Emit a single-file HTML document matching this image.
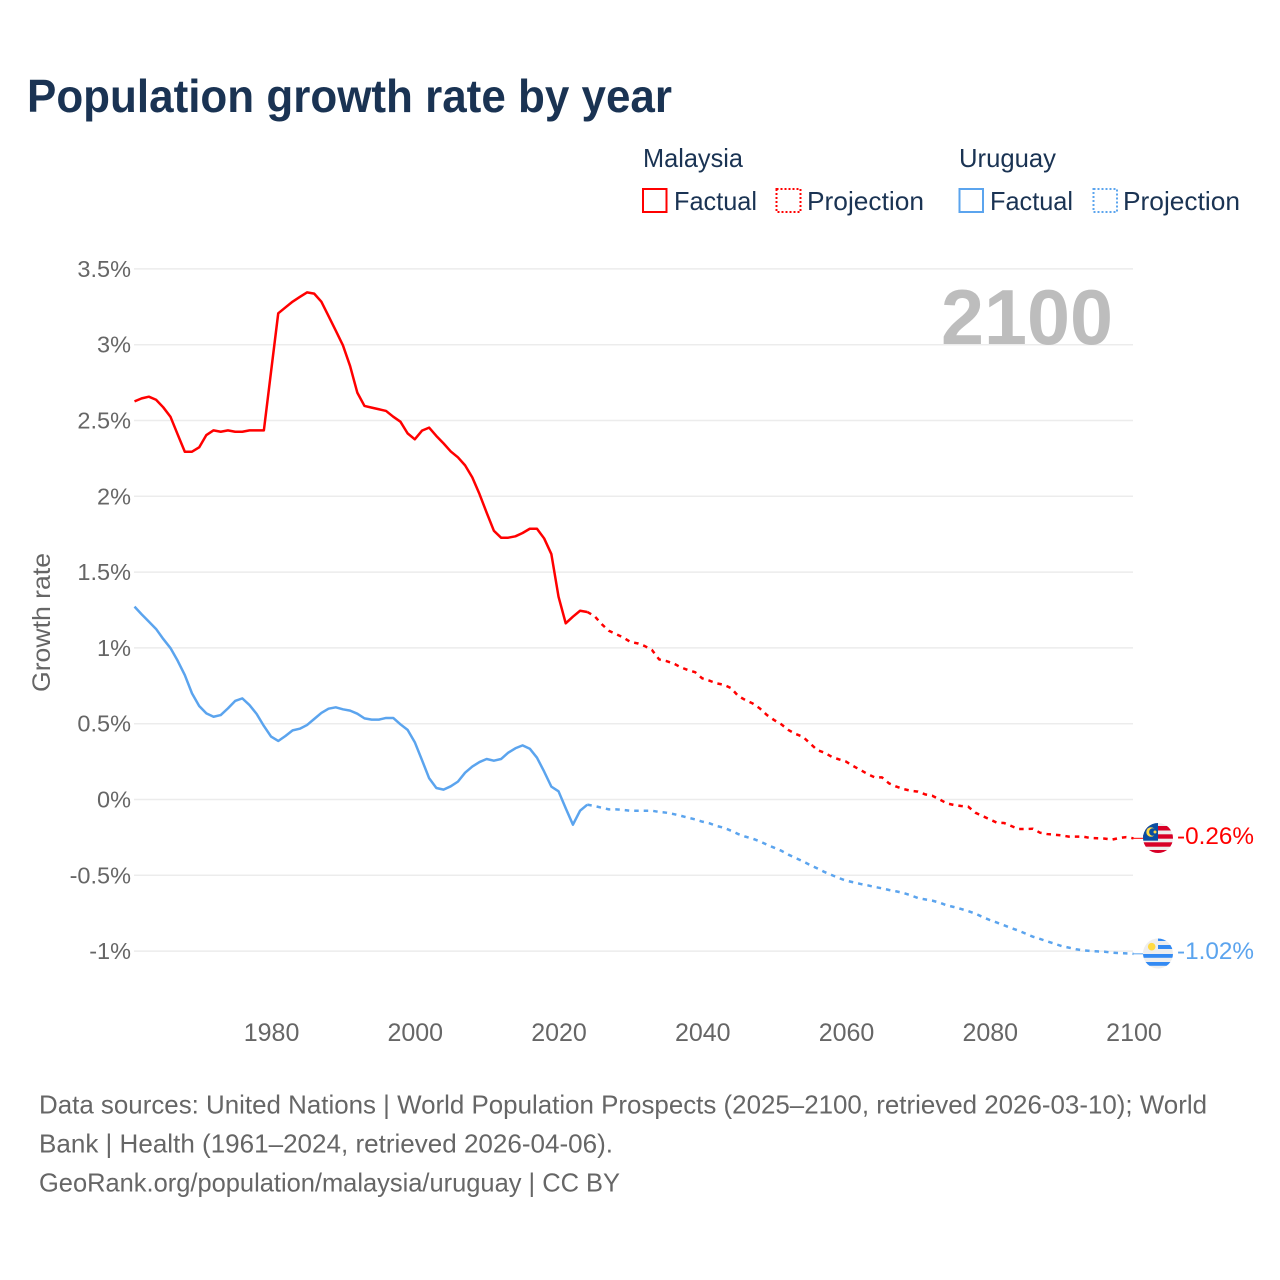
<!DOCTYPE html>
<html lang="en">
<head>
<meta charset="utf-8">
<title>Population growth rate by year</title>
<style>
html,body{margin:0;padding:0;background:#fff;}
svg{display:block;font-family:"Liberation Sans",sans-serif;}
</style>
</head>
<body>
<svg id="chart" xmlns="http://www.w3.org/2000/svg" width="1280" height="1280" viewBox="0 0 1280 1280">
  <rect x="0" y="0" width="1280" height="1280" fill="#fff"/>
  <text x="27" y="112" font-size="46" font-weight="700" fill="#1a3353" textLength="645" lengthAdjust="spacingAndGlyphs">Population growth rate by year</text>

  <g font-size="26" fill="#1a3353">
    <text x="643" y="167" textLength="100" lengthAdjust="spacingAndGlyphs">Malaysia</text>
    <text x="959" y="167" textLength="97" lengthAdjust="spacingAndGlyphs">Uruguay</text>
    <g>
      <rect x="643" y="189" width="23.5" height="23" fill="none" stroke="#ff0000" stroke-width="2"/>
      <text x="674" y="210" textLength="83" lengthAdjust="spacingAndGlyphs">Factual</text>
    </g>
    <g>
      <rect x="776.500" y="189" width="24" height="23" fill="none" stroke="#ff0000" stroke-width="2" stroke-dasharray="2 2"/>
      <text x="807" y="210" textLength="117" lengthAdjust="spacingAndGlyphs">Projection</text>
    </g>
    <g>
      <rect x="959.500" y="189" width="23.500" height="23" fill="none" stroke="#5ba4ee" stroke-width="2"/>
      <text x="990" y="210" textLength="83" lengthAdjust="spacingAndGlyphs">Factual</text>
    </g>
    <g>
      <rect x="1093.500" y="189" width="23.500" height="23" fill="none" stroke="#5ba4ee" stroke-width="2" stroke-dasharray="2 2"/>
      <text x="1123" y="210" textLength="117" lengthAdjust="spacingAndGlyphs">Projection</text>
    </g>
  </g>

  <g id="grid"></g>
  <g id="yticks" font-size="23.5" fill="#666" text-anchor="end"></g>
  <g id="xticks" font-size="25" fill="#666" text-anchor="middle"></g>
  <text transform="translate(50 622.500) rotate(-90)" font-size="25" fill="#666" text-anchor="middle" textLength="139" lengthAdjust="spacingAndGlyphs">Growth rate</text>
  <text x="941" y="344" font-size="78" font-weight="700" fill="#bdbdbd" textLength="172" lengthAdjust="spacingAndGlyphs">2100</text>

  <g id="series"></g>

  <defs>
    <clipPath id="clip-my"><circle cx="1158" cy="838" r="15"/></clipPath>
    <clipPath id="clip-uy"><circle cx="1158" cy="953.500" r="15"/></clipPath>
  </defs>
  <g clip-path="url(#clip-my)">
    <rect x="1143" y="823" width="30" height="30" fill="#eeeeee"/>
    <rect x="1143" y="826" width="30" height="4.500" fill="#d80027"/>
    <rect x="1143" y="834.300" width="30" height="4.400" fill="#d80027"/>
    <rect x="1143" y="842.300" width="30" height="4.400" fill="#d80027"/>
    <rect x="1143" y="850" width="30" height="4" fill="#d80027"/>
    <rect x="1143" y="823" width="15" height="17.700" fill="#0a4ea2"/>
    <circle cx="1151" cy="832" r="4.700" fill="#ffda44"/>
    <circle cx="1152.800" cy="832" r="3.700" fill="#0a4ea2"/>
    <circle cx="1155" cy="832" r="1.500" fill="#ffda44"/>
  </g>
  <g clip-path="url(#clip-uy)">
    <rect x="1143" y="938" width="30" height="31" fill="#eeeeee"/>
    <rect x="1158" y="938" width="15" height="3" fill="#338af3"/>
    <rect x="1158" y="945" width="15" height="4" fill="#338af3"/>
    <rect x="1143" y="954" width="30" height="3.800" fill="#338af3"/>
    <rect x="1143" y="962" width="30" height="3.800" fill="#338af3"/>
    <circle cx="1151.700" cy="946.700" r="3.800" fill="#ffda44"/>
  </g>
  <text id="label-my" x="1177" y="844" font-size="24.500" fill="#ff0000" textLength="77" lengthAdjust="spacingAndGlyphs">-0.26%</text>
  <text id="label-uy" x="1177" y="959" font-size="24.500" fill="#5ba4ee" textLength="77" lengthAdjust="spacingAndGlyphs">-1.02%</text>

  <g font-size="26" fill="#666">
    <text x="39" y="1113.500" textLength="1168" lengthAdjust="spacingAndGlyphs">Data sources: United Nations | World Population Prospects (2025–2100, retrieved 2026-03-10); World</text>
    <text x="39" y="1152.500" textLength="574" lengthAdjust="spacingAndGlyphs">Bank | Health (1961–2024, retrieved 2026-04-06).</text>
    <text x="39" y="1191.500" textLength="581" lengthAdjust="spacingAndGlyphs">GeoRank.org/population/malaysia/uruguay | CC BY</text>
  </g>
</svg>
<script>
const xTickLabels = [1980, 2000, 2020, 2040, 2060, 2080, 2100];
const yTickValues = [3.5, 3, 2.5, 2, 1.5, 1, 0.5, 0, -0.5, -1];
const factualStartYear = 1961;
const projectionStartYear = 2024;
const malaysiaFactual = [2.626,2.646,2.657,2.637,2.587,2.525,2.409,2.294,2.294,2.323,2.404,2.435,2.426,2.435,2.426,2.426,2.435,2.435,2.435,2.822,3.207,3.246,3.284,3.315,3.345,3.337,3.284,3.189,3.093,2.996,2.859,2.684,2.596,2.585,2.574,2.563,2.525,2.492,2.415,2.376,2.433,2.453,2.398,2.349,2.296,2.257,2.204,2.125,2.015,1.892,1.773,1.727,1.727,1.736,1.758,1.786,1.786,1.722,1.619,1.338,1.162,1.206,1.245,1.237];
const malaysiaProjection = [1.237,1.21,1.157,1.113,1.091,1.069,1.039,1.03,1.012,0.986,0.924,0.913,0.898,0.872,0.854,0.84,0.799,0.784,0.766,0.757,0.735,0.683,0.656,0.634,0.601,0.557,0.524,0.496,0.458,0.432,0.414,0.37,0.326,0.309,0.282,0.265,0.25,0.221,0.195,0.168,0.146,0.146,0.106,0.085,0.069,0.058,0.052,0.034,0.025,0.001,-0.025,-0.036,-0.043,-0.047,-0.087,-0.109,-0.131,-0.153,-0.155,-0.175,-0.195,-0.195,-0.193,-0.219,-0.228,-0.232,-0.237,-0.245,-0.245,-0.245,-0.254,-0.256,-0.258,-0.265,-0.254,-0.248,-0.256];
const uruguayFactual = [1.272,1.221,1.173,1.125,1.059,0.999,0.916,0.821,0.7,0.617,0.568,0.546,0.557,0.601,0.65,0.667,0.623,0.564,0.485,0.415,0.386,0.419,0.456,0.467,0.491,0.531,0.571,0.599,0.608,0.595,0.586,0.566,0.535,0.527,0.527,0.538,0.538,0.496,0.459,0.378,0.26,0.14,0.076,0.065,0.087,0.118,0.177,0.217,0.247,0.267,0.256,0.267,0.309,0.338,0.357,0.335,0.276,0.184,0.085,0.054,-0.058,-0.166,-0.074,-0.034];
const uruguayProjection = [-0.034,-0.043,-0.054,-0.065,-0.065,-0.069,-0.074,-0.074,-0.074,-0.074,-0.082,-0.087,-0.096,-0.107,-0.12,-0.131,-0.146,-0.157,-0.175,-0.186,-0.206,-0.228,-0.245,-0.258,-0.276,-0.298,-0.318,-0.338,-0.364,-0.386,-0.408,-0.432,-0.454,-0.478,-0.498,-0.518,-0.535,-0.546,-0.557,-0.566,-0.577,-0.586,-0.597,-0.606,-0.617,-0.632,-0.65,-0.659,-0.667,-0.68,-0.698,-0.709,-0.722,-0.736,-0.753,-0.775,-0.795,-0.812,-0.83,-0.848,-0.865,-0.885,-0.905,-0.92,-0.936,-0.951,-0.967,-0.977,-0.988,-0.995,-0.999,-1.002,-1.004,-1.01,-1.013,-1.015,-1.018];

const NS = 'http://www.w3.org/2000/svg';
function xScale(year) { return 134.5 + (year - 1961) * 7.187; }
function yScale(value) { return 799.5 - value * 151.6; }
function make(tag, attrs, parent) {
  const el = document.createElementNS(NS, tag);
  for (const k in attrs) el.setAttribute(k, attrs[k]);
  parent.appendChild(el);
  return el;
}
function pathFor(values, startYear) {
  return values.map((v, i) => (i ? 'L' : 'M') + xScale(startYear + i).toFixed(2) + ' ' + yScale(v).toFixed(2)).join(' ');
}

const gridG = document.getElementById('grid');
const yG = document.getElementById('yticks');
yTickValues.forEach(v => {
  const line = make('line', {x1: 134, x2: 1133, y1: yScale(v), y2: yScale(v), stroke: '#ececec', 'stroke-width': 1.5}, gridG);
  
  
  const t = make('text', {x: 131, y: yScale(v) + 8}, yG);
  
  
  t.textContent = v + '%';
});

const xG = document.getElementById('xticks');
xTickLabels.forEach(y => {
  const t = make('text', {x: xScale(y) + 0.5, y: 1041}, xG);
  
  
  t.textContent = y;
});

const sG = document.getElementById('series');
const RED = '#ff0000', BLUE = '#5ba4ee';
function addLine(values, startYear, color, dashed, name) {
  const p = make('path', {d: pathFor(values, startYear), fill: 'none', stroke: color, 'stroke-width': 2.5, 'stroke-linejoin': 'round'}, sG);
  if (dashed) p.setAttribute('stroke-dasharray', '4.5 5');
  
  
  return p;
}
addLine(malaysiaFactual, factualStartYear, RED, false, 'malaysia-factual-line');
addLine(malaysiaProjection, projectionStartYear, RED, true, 'malaysia-projection-line');
addLine(uruguayFactual, factualStartYear, BLUE, false, 'uruguay-factual-line');
addLine(uruguayProjection, projectionStartYear, BLUE, true, 'uruguay-projection-line');

function addConnector(values, color, name) {
  const last = values[values.length - 1];
  const c = make('line', {x1: xScale(2100), x2: 1143, y1: yScale(last), y2: yScale(last), stroke: color, 'stroke-width': 1}, sG);
  
  
}
addConnector(malaysiaProjection, RED, 'malaysia-connector');
addConnector(uruguayProjection, BLUE, 'uruguay-connector');
</script>
</body>
</html>
